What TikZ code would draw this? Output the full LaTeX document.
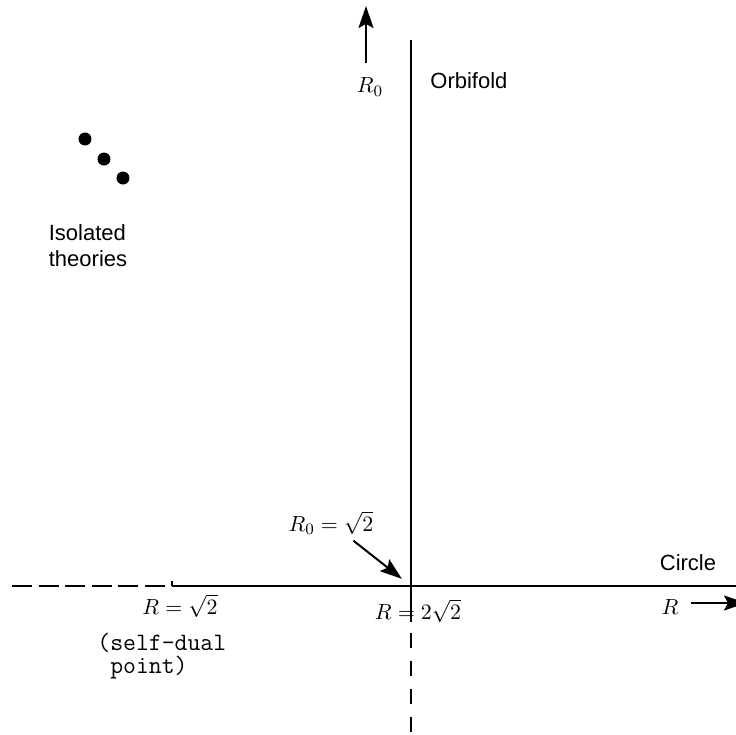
\documentclass[tikz,border=0pt]{standalone}
\usepackage{amsmath}
\usepackage{fontspec}
\setmainfont{Liberation Sans}
\usetikzlibrary{positioning,arrows.meta}

\tikzset{
  axis/.style={line width=1pt},
  tip/.style={line width=1pt, -{Stealth[length=11pt,width=7.5pt,inset=2pt]}},
  lbl/.style={font=\fontsize{11}{13}\selectfont, inner sep=1pt},
  dot/.style={circle, fill, inner sep=0pt, minimum size=6.5pt},
}

\begin{document}
\begin{tikzpicture}[x=0.5pt,y=-0.5pt]
  \useasboundingbox (0,0) rectangle (736,735);

  % moduli lines
  \coordinate (origin) at (411,586);
  \coordinate (selfdual) at (172,586);
  \draw[axis] (selfdual) -- (736,586);
  \draw[axis] (selfdual) -- ++(0,-5);
  \draw[axis, dash pattern=on 10pt off 3.3pt] (12,586) -- (165,586);
  \draw[axis] (411,40) -- (411,622);
  \draw[axis, dash pattern=on 7.5pt off 6.5pt] (411,633) -- (411,735);

  % axis names
  \node[lbl] (rzero) at (370,87) {$R_0$};
  \coordinate (rzerotop) at (366,6);
  \draw[tip] (rzerotop |- rzero.north) ++(0,-12) -- (rzerotop);
  \node[lbl, anchor=west] (orbifold) at (428,81) {Orbifold};
  \node[lbl] (circle) at (688,563) {Circle};
  \node[lbl] (rlab) at (670,607) {$R$};
  \coordinate (rend) at (746,603);
  \draw[tip] (rlab.east |- rend) ++(10,0) -- (rend);

  % special points
  \node[lbl] (rzeroeq) at (331,523) {$R_0 = \sqrt{2}$};
  \draw[tip, shorten <=3pt, shorten >=5.8pt] (rzeroeq) -- (origin);
  \node[lbl] (twosqrt) at (418,611) {$R = 2\sqrt{2}$};
  \node[lbl] (sqrttwo) at (180,606) {$R = \sqrt{2}$};
  \node[lbl, font=\fontsize{12.5}{11.5}\selectfont\ttfamily, align=left, anchor=west] (selfdualtext) at (95,656) {(self-dual\\\hphantom{(}point)};

  % isolated theories
  \foreach \i/\x/\y in {1/85/139, 2/104/159, 3/123/178}
    \node[dot] (dot\i) at (\x,\y) {};
  \node[lbl, align=left] (isolated) at (88,246) {Isolated\\theories};
\end{tikzpicture}
\end{document}
